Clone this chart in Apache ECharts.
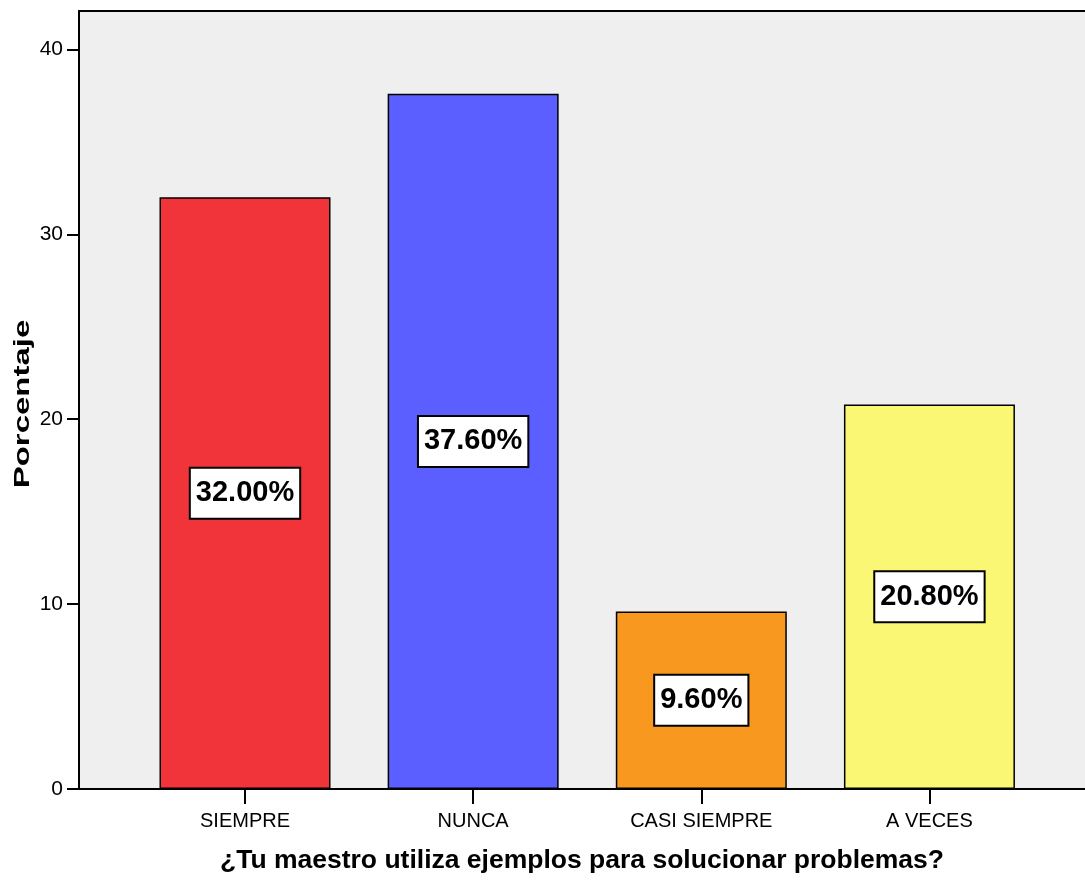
<!DOCTYPE html>
<html>
<head>
<meta charset="utf-8">
<script src="https://cdn.jsdelivr.net/npm/echarts@6/dist/echarts.min.js"></script>
<style>
html,body{margin:0;padding:0;background:#fff;}
#chart{width:1085px;height:881px;}
</style>
</head>
<body>
<div id="chart"></div>
<script>
// ---- data ----
var categories = ['SIEMPRE', 'NUNCA', 'CASI SIEMPRE', 'A VECES'];
var percentages = [32.00, 37.60, 9.60, 20.80];
var yTickValues = [0, 10, 20, 30, 40];
var xTitle = '¿Tu maestro utiliza ejemplos para solucionar problemas?';
var yTitle = 'Porcentaje';

// ---- styles ----
var barColors = ['#F1333A', '#5B5FFF', '#F8981E', '#FAF774'];
var regular = "'Liberation Sans', Arial, sans-serif";

var chart = echarts.init(document.getElementById('chart'));
var xMin = -0.7276, xMax = 3.6818;

var option = {
  animation: false,
  backgroundColor: '#ffffff',
  grid: {
    left: 79, right: 0, top: 11, bottom: 92,
    show: true, backgroundColor: '#EFEFEF', borderWidth: 0
  },
  xAxis: [{
    type: 'value',
    min: xMin, max: xMax,
    name: xTitle,
    nameLocation: 'middle',
    nameGap: 58,
    nameTextStyle: { fontFamily: regular, fontWeight: 'bold', fontSize: 26.5, color: '#000' },
    axisLine: { show: true, onZero: false, lineStyle: { color: '#000', width: 2 } },
    axisTick: { show: true, length: 15, lineStyle: { color: '#000', width: 2 }, customValues: [0, 1, 2, 3] },
    axisLabel: {
      customValues: [0, 1, 2, 3],
      formatter: function (v) { return categories[Math.round(v)]; },
      fontFamily: regular, fontSize: 20, color: '#000', margin: 22
    },
    splitLine: { show: false }
  }, {
    type: 'value',
    position: 'top',
    min: xMin, max: xMax,
    axisLine: { show: true, onZero: false, lineStyle: { color: '#000', width: 2 } },
    axisTick: { show: false },
    axisLabel: { show: false },
    splitLine: { show: false }
  }],
  yAxis: {
    type: 'value',
    min: 0, max: 42.08,
    axisLine: { show: true, onZero: false, lineStyle: { color: '#000', width: 2 } },
    axisTick: { show: true, length: 12, lineStyle: { color: '#000', width: 2 }, customValues: yTickValues },
    axisLabel: { customValues: yTickValues, fontFamily: regular, fontSize: 21, color: '#000', margin: 16 },
    splitLine: { show: false }
  },
  graphic: [{
    type: 'text',
    x: 23, y: 404,
    rotation: Math.PI / 2,
    scaleX: 1.5,
    style: {
      text: yTitle,
      font: 'bold 22px ' + regular,
      fill: '#000',
      align: 'center',
      verticalAlign: 'middle'
    }
  }],
  series: [{
    type: 'bar',
    xAxisIndex: 0,
    barWidth: 171,
    data: percentages.map(function (v, i) {
      return { value: [i, v], itemStyle: { color: barColors[i] } };
    }),
    itemStyle: { borderColor: '#000', borderWidth: 1.5 },
    label: {
      show: true,
      position: 'inside',
      formatter: function (p) { return p.value[1].toFixed(2) + '%'; },
      fontFamily: regular,
      fontWeight: 'bold',
      fontSize: 29,
      lineHeight: 35,
      color: '#000',
      backgroundColor: '#fff',
      borderColor: '#000',
      borderWidth: 2,
      padding: [8, 5, 6, 5]
    }
  }]
};
chart.setOption(option);
</script>
</body>
</html>
